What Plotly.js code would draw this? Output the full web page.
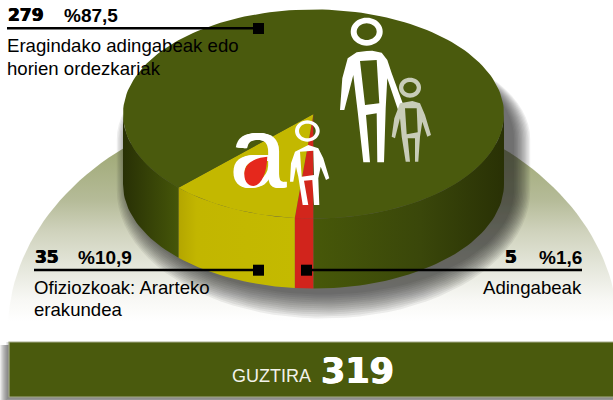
<!DOCTYPE html>
<html><head><meta charset="utf-8">
<script src="https://cdn.plot.ly/plotly-3.0.1.min.js"></script>
<style>html,body{margin:0;padding:0;background:#fff}#c{width:613px;height:400px}</style>
</head><body><div id="c"></div>
<script>
// ---- data
var categories = ['Adingabeak', 'Ofiziozkoak: Ararteko erakundea', 'Eragindako adingabeak edo horien ordezkariak'];
var counts = [5, 35, 279];
var percents = ['%1,6', '%10,9', '%87,5'];
var totalLabel = 'GUZTIRA';
var totalValue = 319;

// ---- pie geometry (projected pie in pixel-like axes)
var CX = 313.5, CY = 114, RX = 190.5, RY = 104.5, DEPTH = 70, START = 90;
var FONT = 'Liberation Sans, Arial, sans-serif', HEAVY = 'DejaVu Sans, sans-serif';
var topColors = ['#d2261c', '#c3b800', '#4a5a0d'];
var sideScales = [
  [[0, '#d1241c'], [1, '#d1241c']],
  [[0, '#b4a600'], [0.15, '#c2b600'], [1, '#c4ba00']],
  [[0, '#283005'], [0.15, '#465709'], [0.5, '#475809'], [0.78, '#3a470a'], [1, '#293105']]
];
var total = counts.reduce(function (a, b) { return a + b; }, 0);
function pt(t, dy) {
  var a = t * Math.PI / 180;
  return [CX + RX * Math.cos(a), CY + (dy || 0) + RY * Math.sin(a)];
}
function arc(t0, t1, dy) {
  var out = [], n = Math.max(2, Math.ceil(Math.abs(t1 - t0) / 2));
  for (var i = 0; i <= n; i++) out.push(pt(t0 + (t1 - t0) * i / n, dy));
  return out;
}
function polyTrace(pts, extra) {
  var tr = { type: 'scatter', mode: 'lines', x: pts.map(function (p) { return p[0]; }), y: pts.map(function (p) { return p[1]; }),
    fill: 'toself', line: { width: 0 }, hoverinfo: 'skip', showlegend: false };
  for (var k in extra) tr[k] = extra[k];
  return tr;
}
var traces = [];

// backdrop dome
var dome = [];
for (var a = 180; a <= 360; a += 2) { var r = a * Math.PI / 180; dome.push([313 + 305 * Math.cos(r), 330 + 232 * Math.sin(r)]); }
traces.push(polyTrace(dome, { fillgradient: { type: 'vertical', start: 140, stop: 322, colorscale: [[0, '#9ca670'], [0.33, '#b5bb98'], [0.5, '#cfd2bc'], [0.69, '#e4e6da'], [0.88, '#f8f8f5'], [1, '#ffffff']] } }));

// soft shadow under the pie
for (var s = 12; s >= 0; s--) {
  var kx = s * 1.35, ky = s * 2, hull = [], i, d;
  for (i = 180; i <= 360; i += 4) { d = i * Math.PI / 180; hull.push([CX + 10 + (RX + kx) * Math.cos(d), CY + 25 + RY * Math.sin(d)]); }
  for (i = 0; i <= 180; i += 4) { d = i * Math.PI / 180; hull.push([CX + 10 + (RX + kx) * Math.cos(d), CY + DEPTH + 6 + (RY + ky) * Math.sin(d)]); }
  traces.push(polyTrace(hull, { fillcolor: 'rgba(30,30,30,0.072)' }));
}

// side walls and top slices
var t = START;
var spans = counts.map(function (c) { var sp = [t, t + c / total * 360]; t = sp[1]; return sp; });
spans.forEach(function (sp, idx) {
  [[0, 180], [360, 540]].forEach(function (v) {
    var a0 = Math.max(sp[0], v[0]), a1 = Math.min(sp[1], v[1]);
    if (a1 <= a0) return;
    var poly = arc(a0, a1, 0).concat(arc(a1, a0, DEPTH));
    traces.push(polyTrace(poly, { fillgradient: { type: 'horizontal', start: idx === 1 ? 179 : 123, stop: idx === 1 ? 297 : 504, colorscale: sideScales[idx] } }));
  });
});
spans.forEach(function (sp, idx) {
  var poly = [[CX, CY]].concat(arc(sp[0], sp[1], 0)).concat([[CX, CY]]);
  traces.push(polyTrace(poly, { fillcolor: topColors[idx] }));
});

// the "a" of the logo
traces.push({ type: 'scatter', mode: 'text', x: [258], y: [162], text: ['a'], textposition: 'middle center',
  textfont: { family: FONT, size: 100, color: '#ffffff', weight: 400, shadow: '1px 0 0 #fff, -1px 0 0 #fff' }, hoverinfo: 'skip', showlegend: false });

// ---- icons
function mapPts(pts, ox, oy) { return pts.map(function (p) { return [ox + p[0] / 3, oy + p[1] / 3]; }); }
function toPath(pts) { return 'M' + pts.map(function (p) { return p[0].toFixed(1) + ',' + p[1].toFixed(1); }).join('L') + 'Z'; }
function oval(cx, cy, rx, ry) { var o = []; for (var i = 0; i < 40; i++) { var a = i * Math.PI / 20; o.push([cx + rx * Math.cos(a), cy + ry * Math.sin(a)]); } return o; }
function figure(ox, oy, body, inner, head, color) {
  return { type: 'path', xref: 'x', yref: 'y', layer: 'above', fillrule: 'evenodd', fillcolor: color, line: { width: 0 },
    path: toPath(mapPts(body, ox, oy)) + toPath(mapPts(inner, ox, oy)) +
      toPath(mapPts(oval(head[0], head[1], head[2], head[3]), ox, oy)) + toPath(mapPts(oval(head[0], head[1], head[4], head[5]), ox, oy)) };
}
var shapes = [];
// total band shadow
for (var k = 9; k >= 1; k--) shapes.push({ type: 'rect', xref: 'x', yref: 'y', layer: 'below', x0: 9 - k, x1: 620, y0: 342 + (k > 3 ? 3 : 0), y1: 397 + Math.min(k, 4), fillcolor: 'rgba(40,40,40,0.09)', line: { width: 0 } });
shapes.push({ type: 'rect', xref: 'x', yref: 'y', layer: 'above', x0: 9, x1: 620, y0: 342, y1: 397, fillcolor: '#4a5a0d', line: { width: 1.2, color: '#a6ab8c' } });

shapes.push(figure(335, 15,
  [[95,108],[112,107],[140,113],[157,135],[170,175],[207,275],[190,287],[157,190],[152,280],[147,442],[127,442],[125,295],[93,300],[105,442],[85,442],[68,290],[55,180],[28,285],[15,285],[22,190],[38,130],[65,112]],
  [[75,138],[125,135],[133,265],[90,270]], [95,50,48,42,30,25], '#ffffff'));
shapes.push(figure(335, 15,
  [[232,258],[255,265],[270,300],[288,360],[277,365],[262,320],[255,365],[250,440],[240,440],[240,370],[218,370],[225,440],[212,440],[200,365],[195,310],[180,370],[170,365],[178,310],[195,265]],
  [[210,280],[245,280],[248,352],[215,358]], [225,218,33,30,20,17], '#c8ccb8'));
shapes.push(figure(230, 110,
  [[235,105],[265,115],[280,145],[298,205],[288,210],[272,170],[265,205],[268,285],[252,285],[247,210],[222,212],[235,285],[218,285],[205,200],[198,170],[190,215],[180,215],[183,160],[195,125]],
  [[210,125],[250,122],[252,195],[215,200]], [232,63,37,32,25,22], '#ffffff'));
// teardrop in the "a"
shapes.push({ type: 'path', xref: 'x', yref: 'y', layer: 'above', fillcolor: '#e5281c', line: { width: 0 },
  path: 'M267.3,156.7 C256.7,157.7 245,161.7 244.3,173.3 C244,181.7 248.3,186 253.3,186 C261.7,185 266.7,173.3 267.3,156.7 Z' });

// ---- leaders
function leader(x0, x1, y, sx) {
  shapes.push({ type: 'line', xref: 'x', yref: 'y', layer: 'above', x0: x0, x1: x1, y0: y, y1: y, line: { color: '#000', width: 2.4 } });
  shapes.push({ type: 'rect', xref: 'x', yref: 'y', layer: 'above', x0: sx, x1: sx + 11, y0: y - 5.3, y1: y + 5.7, fillcolor: '#000', line: { width: 0 } });
}
leader(7, 258, 28.3, 253);
leader(34, 258, 270, 253);
leader(307, 582, 270, 301);

// ---- labels
function label(text, x, y, size, family, anchor, color, weight, shadow) {
  var f = { family: family, size: size, color: color || '#000', weight: weight || 400 };
  if (shadow) f.shadow = shadow;
  return { text: text, x: x, y: y, xref: 'x', yref: 'y', xanchor: anchor, yanchor: 'middle', showarrow: false, borderpad: 0, font: f };
}
var THICK_K = '0.5px 0 0 #000, -0.5px 0 0 #000', THICK_W = '0.6px 0 0 #fff, -0.6px 0 0 #fff';
var ann = [
  label(String(counts[2]), 6.5, 15, 17, HEAVY, 'left', '#000', 700, THICK_K),
  label(percents[2], 63, 15, 19, FONT, 'left', '#000', 700),
  label('Eragindako adingabeak edo', 6, 45, 18.6, FONT, 'left'),
  label('horien ordezkariak', 6, 68, 18.6, FONT, 'left'),
  label(String(counts[1]), 33.5, 257, 17, HEAVY, 'left', '#000', 700, THICK_K),
  label(percents[1], 77, 257, 19, FONT, 'left', '#000', 700),
  label('Ofiziozkoak: Ararteko', 33, 287, 18.6, FONT, 'left'),
  label('erakundea', 33, 309, 18.6, FONT, 'left'),
  label(String(counts[0]), 518, 257, 17, HEAVY, 'right', '#000', 700, THICK_K),
  label(percents[0], 583, 257, 19, FONT, 'right', '#000', 700),
  label('Adingabeak', 583, 287, 18.6, FONT, 'right'),
  label(totalLabel, 231, 376, 18, FONT, 'left', '#f2f2ea'),
  label(String(totalValue), 320, 371, 35, HEAVY, 'left', '#ffffff', 700, THICK_W)
];

Plotly.newPlot('c', traces, {
  width: 613, height: 400, margin: { l: 0, r: 0, t: 0, b: 0 }, paper_bgcolor: '#fff', plot_bgcolor: 'rgba(0,0,0,0)',
  xaxis: { range: [0, 613], visible: false, fixedrange: true },
  yaxis: { range: [400, 0], visible: false, fixedrange: true },
  showlegend: false, shapes: shapes, annotations: ann, hovermode: false
}, { displayModeBar: false, staticPlot: true });
</script></body></html>
